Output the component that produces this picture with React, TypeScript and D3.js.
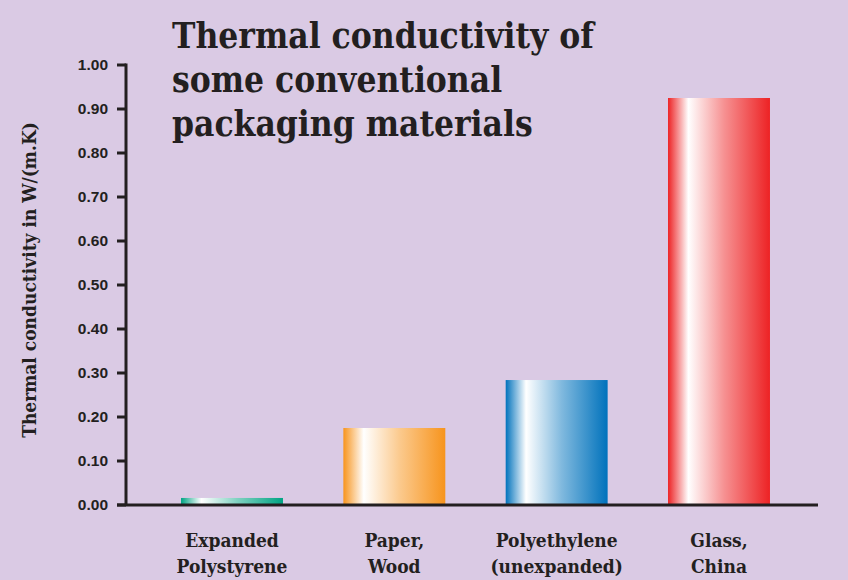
import React from 'react';
import * as d3 from 'd3';

const materials = ['Expanded|Polystyrene', 'Paper,|Wood', 'Polyethylene|(unexpanded)', 'Glass,|China'];
const conductivity = [0.016, 0.175, 0.284, 0.925];
const barColors = ['#00a483', '#f7941d', '#0072bc', '#ed2224'];
const yTicks = [0, 0.1, 0.2, 0.3, 0.4, 0.5, 0.6, 0.7, 0.8, 0.9, 1.0];
const titleLines = ['Thermal conductivity of', 'some conventional', 'packaging materials'];
const yTitle = 'Thermal conductivity in W/(m.K)';

const width = 848;
const height = 580;
const margin = { top: 65, right: 30, bottom: 75, left: 126 };

const slab = "'DejaVu Serif Condensed', 'DejaVu Serif', serif";
const sans = "'Liberation Sans', Arial, sans-serif";
const ink = '#231f20';

const x = d3.scaleBand<string>()
  .domain(materials)
  .range([margin.left, 825])
  .paddingInner(0.372)
  .paddingOuter(0.339);

const y = d3.scaleLinear()
  .domain([0, 1])
  .range([height - margin.bottom, margin.top]);

export default function App() {
  return (
    <svg width={width} height={height} style={{ position: 'absolute', left: 0, top: 0, background: '#dacae4' }}>
      <defs>
        {barColors.map((c, i) => (
          <linearGradient key={i} id={`grad${i}`} x1="0" x2="1" y1="0" y2="0">
            <stop offset="0" stopColor={c} />
            <stop offset="0.2" stopColor="#ffffff" />
            <stop offset="0.55" stopColor={d3.interpolateRgb(c, '#ffffff')(0.5)} />
            <stop offset="1" stopColor={c} />
          </linearGradient>
        ))}
      </defs>
      <rect width={width} height={height} fill="#dacae4" />

      {materials.map((m, i) => (
        <rect key={m}
          x={x(m)}
          y={y(conductivity[i])}
          width={x.bandwidth()}
          height={y(0) - y(conductivity[i])}
          fill={`url(#grad${i})`} />
      ))}

      {/* axes */}
      <line x1={margin.left} x2={margin.left} y1={y(1) - 1.5} y2={y(0)} stroke={ink} strokeWidth={3} />
      <line x1={margin.left - 9} x2={width - margin.right} y1={y(0)} y2={y(0)} stroke={ink} strokeWidth={3} />
      {yTicks.map(t => (
        <g key={t} transform={`translate(${margin.left},${y(t)})`}>
          <line x1={-9} x2={0} stroke={ink} strokeWidth={3} />
          <text x={-18} dy="0.35em" textAnchor="end" fontFamily={sans} fontWeight="bold" fontSize={15.5} fill={ink}>
            {t.toFixed(2)}
          </text>
        </g>
      ))}

      {materials.map(m => (
        <text key={m} textAnchor="middle" fontFamily={slab} fontStretch="condensed" fontWeight="bold" fontSize={19} fill={ink}>
          {m.split('|').map((part, j) => (
            <tspan key={j} x={(x(m) ?? 0) + x.bandwidth() / 2} y={547 + j * 26}>{part}</tspan>
          ))}
        </text>
      ))}

      <text transform={`translate(36,${(y(0) + y(1)) / 2 - 5}) rotate(-90)`} textAnchor="middle"
        fontFamily={slab} fontStretch="condensed" fontWeight="bold" fontSize={19} fill={ink}>
        {yTitle}
      </text>

      <text fontFamily={slab} fontStretch="condensed" fontWeight="bold" fontSize={35} fill={ink}>
        {titleLines.map((l, i) => (
          <tspan key={i} x={172} y={48 + i * 44}>{l}</tspan>
        ))}
      </text>
    </svg>
  );
}
